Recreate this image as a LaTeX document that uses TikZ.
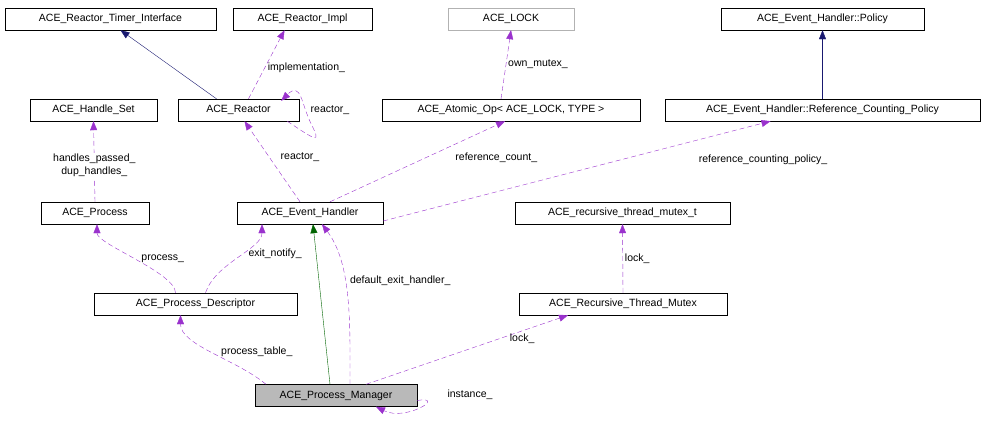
\documentclass[tikz,border=0pt]{standalone}
\usepackage{fontspec}
\setmainfont{Liberation Sans}
\usetikzlibrary{arrows.meta}
\definecolor{ep}{HTML}{9A32CD}
\definecolor{nv}{HTML}{191970}
\definecolor{gr}{HTML}{006400}
\begin{document}
\begin{tikzpicture}[x=1pt,y=-1pt,
  box/.style={draw,inner sep=0pt,minimum height=22pt,font=\fontsize{10.5}{12}\selectfont},
  lbl/.style={font=\fontsize{10.5}{12}\selectfont,inner sep=1pt},
  use/.style={draw=ep,dash pattern=on 5pt off 3pt,-{Triangle[length=9pt,width=7pt,fill=ep]}},
  inh/.style={-{Triangle[length=9pt,width=7pt,fill=#1]},draw=#1}]
\useasboundingbox (0,0) rectangle (987,421);
\node[box,minimum width=211pt] (rti) at (110.5,19) {ACE\_Reactor\_Timer\_Interface};
\node[box,minimum width=139pt] (rim) at (302.5,19) {ACE\_Reactor\_Impl};
\node[box,minimum width=126pt,draw=gray!60] (lck) at (511,19) {ACE\_LOCK};
\node[box,minimum width=203pt] (pol) at (822.5,19) {ACE\_Event\_Handler::Policy};
\node[box,minimum width=127pt] (hs) at (93.5,110) {ACE\_Handle\_Set};
\node[box,minimum width=121pt] (rea) at (238.5,110) {ACE\_Reactor};
\node[box,minimum width=258pt] (ato) at (511,110) {ACE\_Atomic\_Op< ACE\_LOCK, TYPE >};
\node[box,minimum width=315pt] (rcp) at (822.5,110) {ACE\_Event\_Handler::Reference\_Counting\_Policy};
\node[box,minimum width=108pt] (pro) at (95,213) {ACE\_Process};
\node[box,minimum width=146pt] (eh) at (310,213) {ACE\_Event\_Handler};
\node[box,minimum width=215pt] (rtm) at (622.5,213) {ACE\_recursive\_thread\_mutex\_t};
\node[box,minimum width=203pt] (pd) at (195.5,304) {ACE\_Process\_Descriptor};
\node[box,minimum width=208pt] (rtx) at (623,304) {ACE\_Recursive\_Thread\_Mutex};
\node[box,minimum width=162pt,fill=gray!55] (pm) at (336,395.5) {ACE\_Process\_Manager};
% inheritance
\draw[inh=nv] ([xshift=-22pt]rea.north) -- ([xshift=10pt]rti.south);
\draw[inh=nv] (rcp.north) -- (pol.south);
\draw[inh=gr] ([xshift=-6pt]pm.north) -- ([xshift=3pt]eh.south);
% usage
\draw[use] ([xshift=10pt]rea.north) -- node[lbl,pos=0.45,right=2pt]{implementation\_} ([xshift=-18pt]rim.south);
\draw[use] ([xshift=-12pt]rea.south east) .. controls +(30,20) and +(10,20) .. ([xshift=12pt,yshift=-14pt]rea.east) .. controls +(-10,-20) and +(20,-20) .. ([xshift=-18pt,yshift=-2pt]rea.north east);
\node[lbl] (rl) at (330,110) {reactor\_};
\draw[use] ([xshift=-10pt]ato.north) -- node[lbl,right=1pt,pos=0.5]{own\_mutex\_} (lck.south);
\draw[use] (pro.north) -- node[lbl,pos=0.45,fill=white]{\shortstack{handles\_passed\_\\dup\_handles\_}} (hs.south);
\draw[use] ([xshift=-10pt]eh.north) -- node[lbl,pos=0.55,right=10pt]{reactor\_} ([xshift=6pt]rea.south);
\draw[use] ([xshift=20pt]eh.north) -- node[lbl,pos=0.55,right=28pt]{reference\_count\_} ([xshift=-6pt]ato.south);
\draw[use] ([yshift=-8pt]eh.east) -- ([xshift=-52pt]rcp.south);
\node[lbl] (rcl) at (763,160) {reference\_counting\_policy\_};
\draw[use] ([xshift=-20pt]pd.north) .. controls +(0,-20) and +(0,20) .. node[lbl,pos=0.5,right=4pt]{process\_} ([xshift=2pt]pro.south);
\draw[use] ([xshift=10pt]pd.north) .. controls +(10,-30) and +(0,25) .. node[lbl,pos=0.55,right=6pt]{exit\_notify\_} ([xshift=-48pt]eh.south);
\draw[use] ([xshift=14pt]pm.north) .. controls +(0,-60) and +(30,40) .. node[lbl,pos=0.6,right=4pt]{default\_exit\_handler\_} ([xshift=12pt]eh.south);
\draw[use] (rtx.north) -- node[lbl,pos=0.5,right=1pt]{lock\_} (rtm.south);
\draw[use] ([xshift=-70pt]pm.north) .. controls +(-30,-25) and +(0,30) .. node[lbl,pos=0.5,right=8pt]{process\_table\_} ([xshift=-15pt]pd.south);
\draw[use] ([xshift=30pt]pm.north) -- node[lbl,pos=0.55,above=2pt,xshift=45pt]{lock\_} ([xshift=-55pt]rtx.south);
\draw[use] ([yshift=-5pt]pm.east) .. controls +(30,-5) and +(30,15) .. ([xshift=40pt]pm.south);
\node[lbl] (il) at (470,395) {instance\_};
\end{tikzpicture}
\end{document}
